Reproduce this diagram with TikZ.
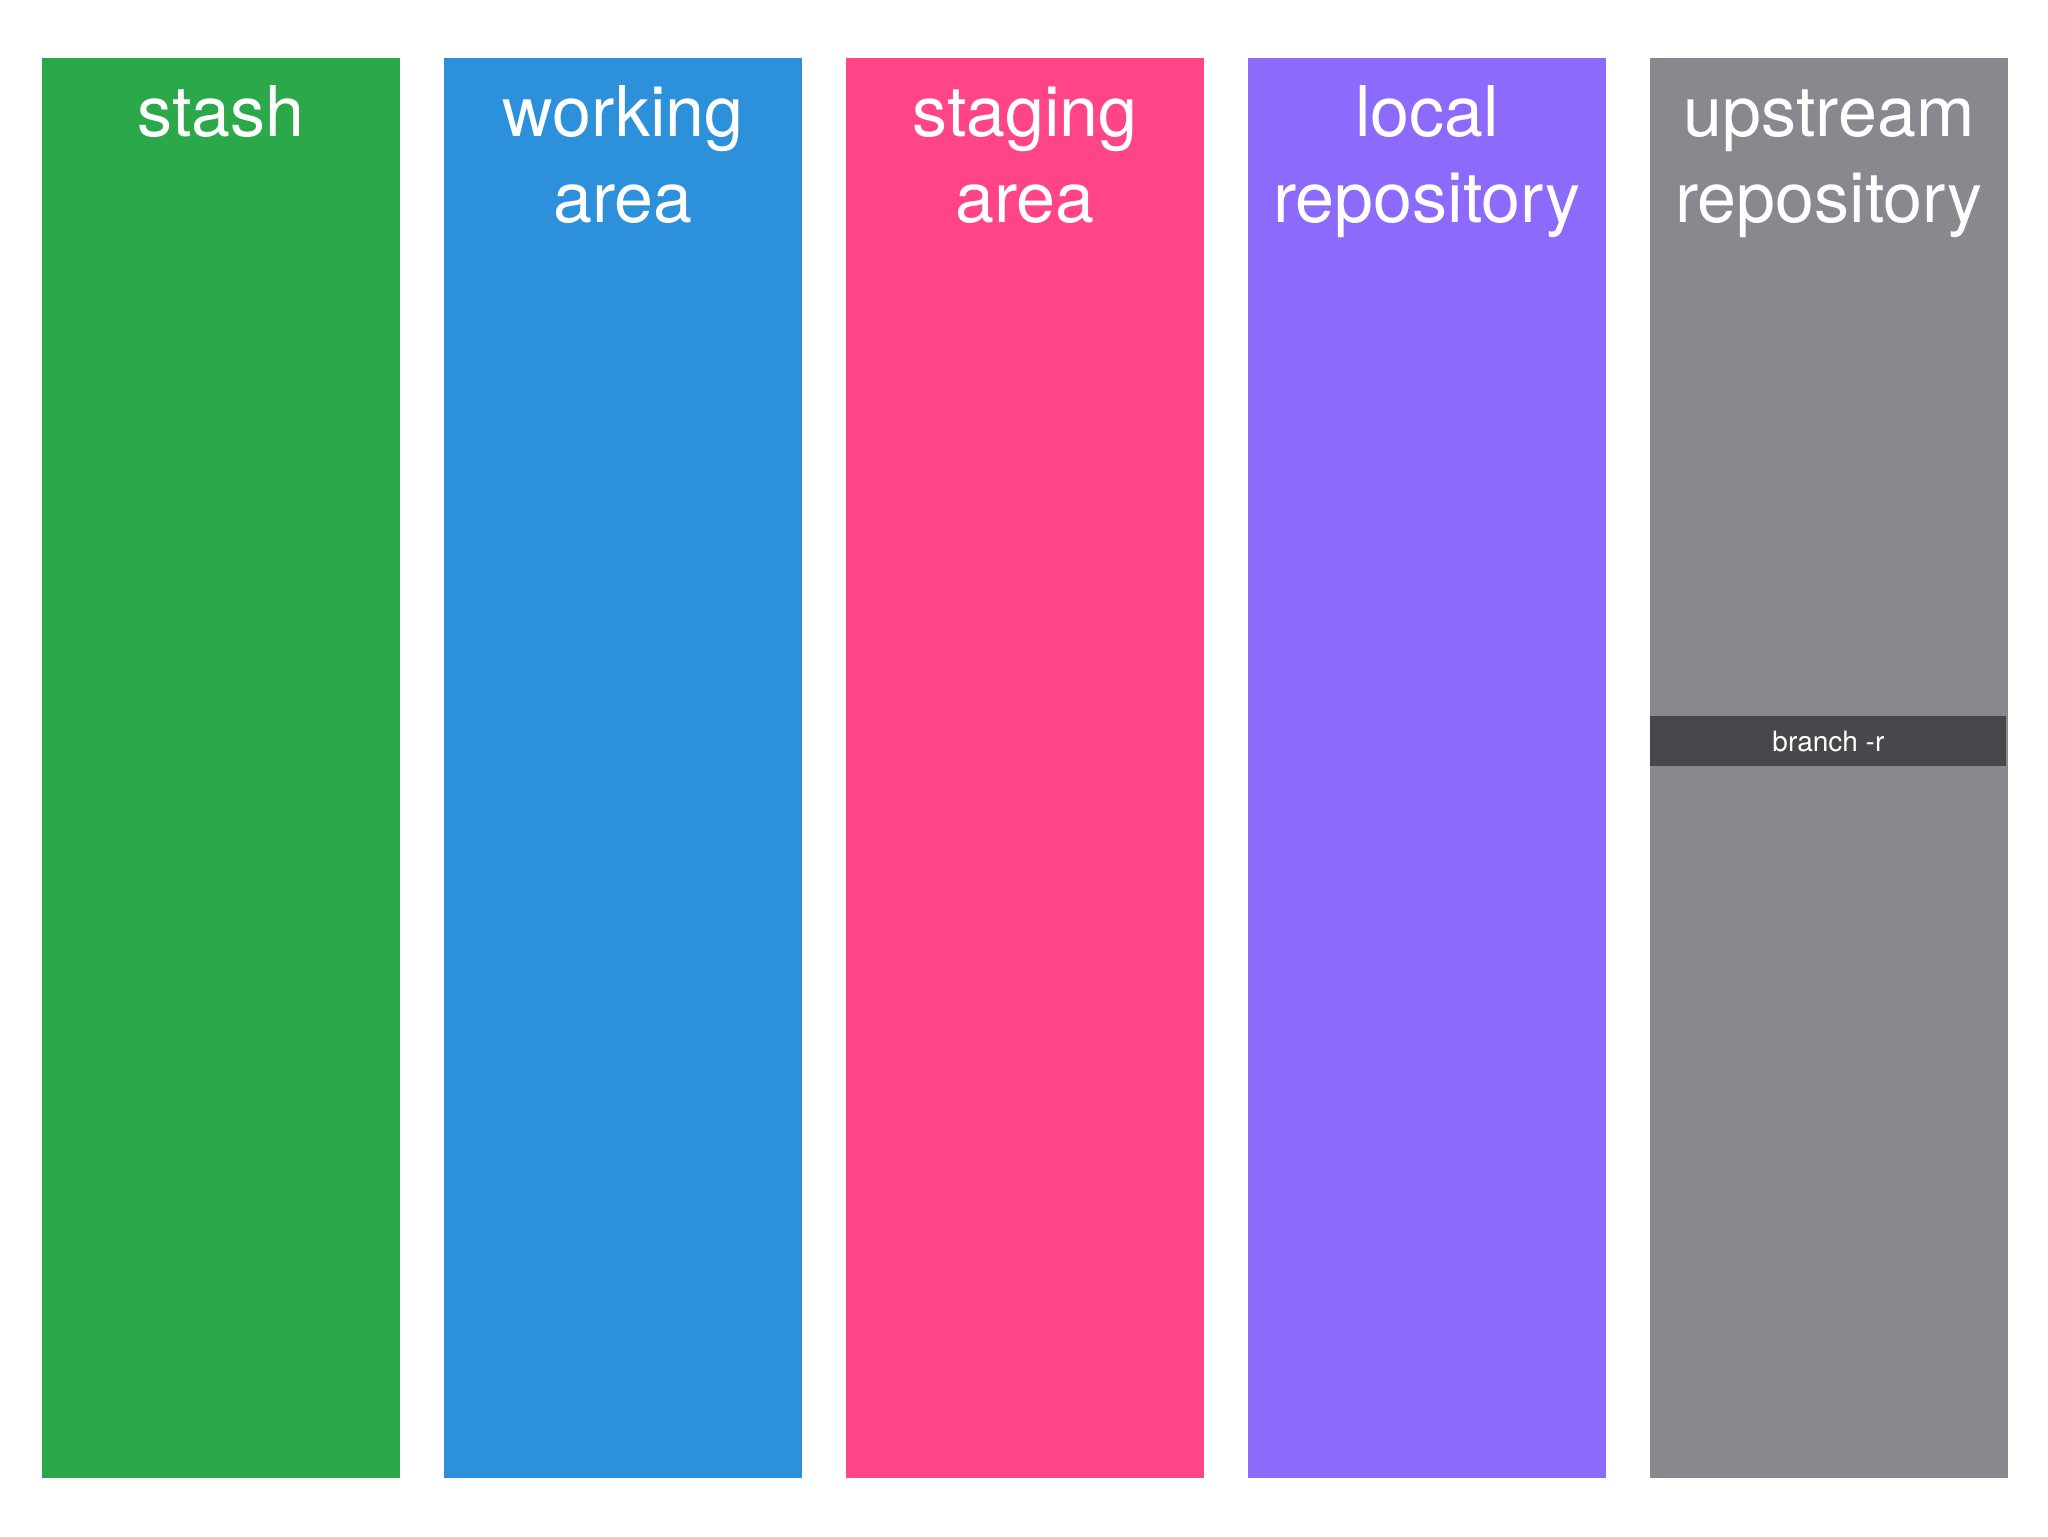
\documentclass[tikz,border=0pt]{standalone}
\usepackage{fontspec}
\setmainfont{TeX Gyre Heros}
\usepackage{xcolor}
\definecolor{stashgreen}{RGB}{43,168,74}
\definecolor{workblue}{RGB}{45,144,219}
\definecolor{stagepink}{RGB}{255,69,136}
\definecolor{localpurple}{RGB}{140,106,252}
\definecolor{upgray}{RGB}{136,136,142}
\definecolor{bardark}{RGB}{72,71,76}

\begin{document}
\begin{tikzpicture}[
    x=0.5pt, y=-0.5pt,
    col/.style={anchor=north west,
      inner sep=0pt, outer sep=0pt,
      minimum width=179pt,
      minimum height=710pt},
    title/.style={anchor=base,
      text=white,
      align=center,
      font=\fontsize{35}{43}\selectfont},
    bar/.style={anchor=north west,
      fill=bardark,
      inner sep=0pt,
      minimum width=178pt,
      minimum height=25pt,
      text=white,
      font=\fontsize{14}{16}\selectfont}
  ]
  \useasboundingbox (0,0) rectangle (2048,1536);
  \node[col, fill=stashgreen] (stash) at (42,58) {};
  \node[col, fill=workblue] (work) at (444,58) {};
  \node[col, fill=stagepink] (stage) at (846,58) {};
  \node[col, fill=localpurple] (local) at (1248,58) {};
  \node[col, fill=upgray] (up) at (1650,58) {};

  % base anchor sits on the last line
  \node[title] (stashT) at (stash.north |- 0,136) {stash};
  \node[title] (workT) at (work.north |- 0,222) {working\\area};
  \node[title] (stageT) at (stage.north |- 0,222) {staging\\area};
  \node[title] (localT) at (local.north |- 0,222) {local\\repository};
  \node[title] (upT) at (up.north |- 0,222) {upstream\\repository};

  \node[bar] (branch) at (1650,716) {branch -r};
\end{tikzpicture}
\end{document}
